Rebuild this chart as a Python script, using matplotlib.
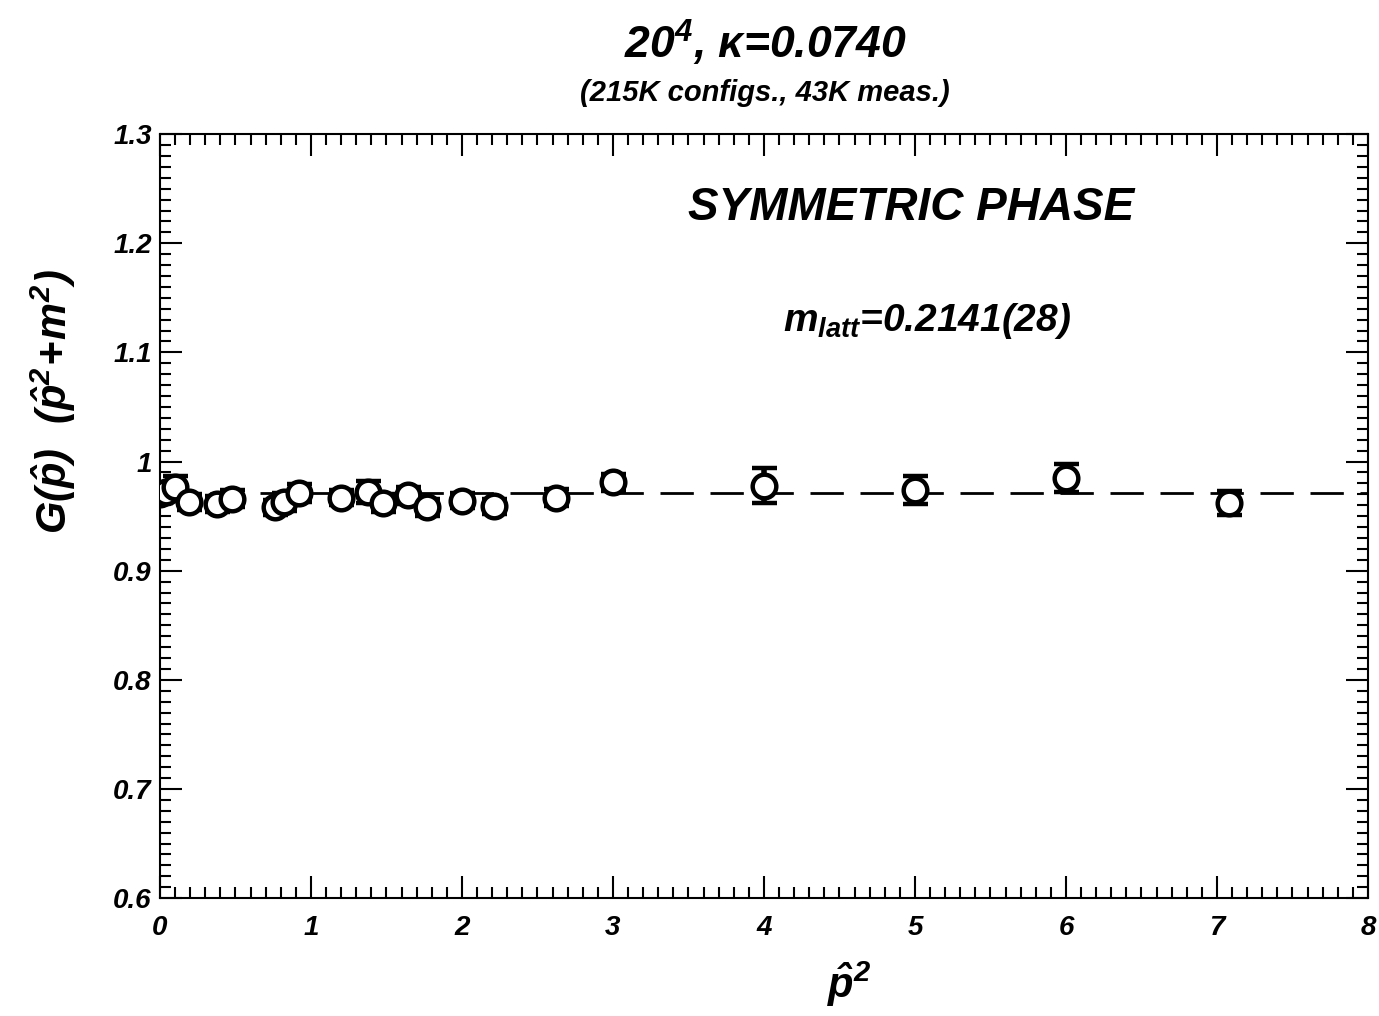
import numpy as np
import matplotlib
matplotlib.use('Agg')
from matplotlib import pyplot as plt
from matplotlib.ticker import MultipleLocator

plt.rcParams['font.family'] = 'Liberation Sans'
plt.rcParams['font.weight'] = 'bold'
plt.rcParams['font.style'] = 'italic'
plt.rcParams['mathtext.fontset'] = 'custom'
plt.rcParams['mathtext.rm'] = 'Liberation Sans:bold:italic'
plt.rcParams['mathtext.it'] = 'Liberation Sans:bold:italic'
plt.rcParams['mathtext.bf'] = 'Liberation Sans:bold:italic'

# data
p2 = [0.0, 0.04, 0.10, 0.19, 0.38, 0.48, 0.76, 0.82, 0.92, 1.20, 1.38,
      1.48, 1.64, 1.77, 2.00, 2.21, 2.62, 3.00, 4.00, 5.00, 6.00, 7.08]
G = [0.970, 0.972, 0.977, 0.963, 0.961, 0.966, 0.958, 0.963, 0.971, 0.967, 0.972,
     0.962, 0.969, 0.958, 0.964, 0.959, 0.967, 0.981, 0.978, 0.974, 0.985, 0.962]
err = [0.008, 0.008, 0.010, 0.007, 0.007, 0.008, 0.007, 0.008, 0.008, 0.007, 0.010,
       0.008, 0.008, 0.008, 0.007, 0.007, 0.008, 0.008, 0.016, 0.013, 0.013, 0.011]
fit_level = 0.9716
xticks = [0, 1, 2, 3, 4, 5, 6, 7, 8]
yticks = [0.6, 0.7, 0.8, 0.9, 1.0, 1.1, 1.2, 1.3]
ytick_labels = ['0.6', '0.7', '0.8', '0.9', '1', '1.1', '1.2', '1.3']

fig = plt.figure(figsize=(13.79, 10.16), dpi=100)
ax = fig.add_axes([0.116, 0.116, 0.876, 0.752])

ax.plot([0, 8], [fit_level, fit_level], color='black', lw=2, dashes=(12, 6))
ax.errorbar(p2, G, yerr=err, fmt='o', ms=17, mfc='white', mec='black', mew=3.2,
            ecolor='black', elinewidth=4, capsize=9, capthick=6, zorder=3)

ax.set_xlim(0, 8)
ax.set_ylim(0.6, 1.3)
ax.set_xticks(xticks)
ax.set_xticklabels([str(t) for t in xticks])
ax.set_yticks(yticks)
ax.set_yticklabels(ytick_labels)
ax.xaxis.set_minor_locator(MultipleLocator(0.1))
ax.yaxis.set_minor_locator(MultipleLocator(0.01))
ax.tick_params(which='both', direction='in', top=True, right=True, width=1.5)
ax.tick_params(which='major', length=16, labelsize=20)
ax.tick_params(axis='x', which='major', pad=12)
ax.tick_params(axis='y', which='major', pad=6)
ax.tick_params(which='minor', length=8)
for s in ax.spines.values():
    s.set_linewidth(1.5)

ax.set_ylabel(r'$G(\hat{p})\ \ (\hat{p}^2\!+\!m^2)$', fontsize=30)
ax.yaxis.set_label_coords(-0.068, 0.65)
ax.set_xlabel(r'$\hat{p}^2$', fontsize=30)
ax.xaxis.set_label_coords(0.571, -0.08)

fig.text(0.555, 0.958, r'$20^4$, $\kappa$=0.0740', ha='center', va='center', fontsize=32)
fig.text(0.555, 0.908, '(215K configs., 43K meas.)', ha='center', va='center', fontsize=21)
ax.text(0.622, 0.903, 'SYMMETRIC PHASE', transform=ax.transAxes, ha='center',
        va='center', fontsize=33)
ax.text(0.635, 0.755, r'$m_{latt}$=0.2141(28)', transform=ax.transAxes, ha='center',
        va='center', fontsize=28)

plt.savefig('out.png', dpi=100)
